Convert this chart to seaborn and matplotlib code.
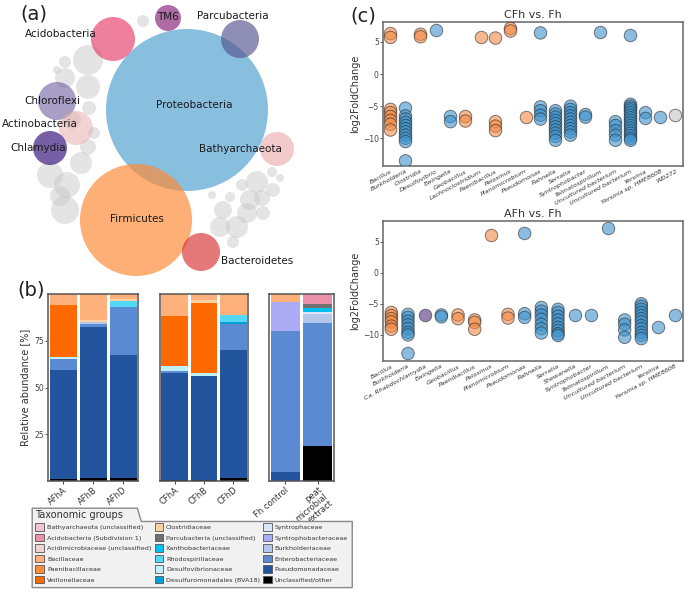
import numpy as np
import pandas as pd
import seaborn as sns
import matplotlib.pyplot as plt
from matplotlib.patches import Circle, Patch, Polygon

sns.set_style("ticks")
plt.rcParams['font.family'] = ['DejaVu Sans']

W, H = 690, 592

# ---------------- (a) phylum bubbles ----------------
phyla = ["Proteobacteria", "Firmicutes", "Bacteroidetes", "Bathyarchaeota", "Parcubacteria",
         "TM6", "Acidobacteria", "Chloroflexi", "Actinobacteria", "Chlamydia"]
phyla_size = [81, 56, 19, 17, 19, 13, 22, 19, 17, 17]
other_size = [6, 15, 6, 4, 10, 12, 7, 6, 8, 11, 13, 13, 14, 10, 9,
              11, 5, 4, 7, 10, 5, 9, 10, 7, 10, 11, 6, 4, 8, 6]

# ---------------- (b) relative abundance ----------------
families = ["Unclassified/other", "Pseudomonadaceae", "Enterobacteriaceae", "Burkholderiaceae",
            "Syntrophobacteraceae", "Syntrophaceae", "Desulfovibrionaceae",
            "Desulfuromonadales (BVA18)", "Rhodospirillaceae", "Xanthobacteriaceae",
            "Parcubacteria (unclassified)", "Veillonellaceae", "Paenibacillaceae", "Clostridiaceae",
            "Bacillaceae", "Acidimicrobiaceae (unclassified)", "Acidobacteria (Subdivision 1)",
            "Bathyarchaeota (unclassified)"]
family_colors = ["#000000", "#23559e", "#5a8ad2", "#b4c8ec", "#aaaaf5", "#dce6f8", "#bdf0f8",
                 "#00a0d0", "#55d8f5", "#00c0f0", "#707070", "#ff6a00", "#fd8d3c", "#fdd0a2",
                 "#fdb07a", "#f0d4d4", "#ea90a8", "#f2c4d0"]
samples = ["AFhA", "AFhB", "AFhD", "CFhA", "CFhB", "CFhD", "Fh control", "peat\nmicrobial\nextract"]
ab_AFhA = [1.0, 58.6, 5.9, 0, 0, 0, 0.8, 0, 0, 0, 0, 28.0, 0, 0, 5.7, 0, 0, 0]
ab_AFhB = [1.5, 81.0, 1.5, 0.8, 0, 0, 0, 0, 0, 0, 0, 0, 0, 1.2, 14.0, 0, 0, 0]
ab_AFhD = [1.5, 65.8, 25.6, 0, 0, 0, 0, 0, 3.5, 0, 0, 0, 0, 0.8, 2.8, 0, 0, 0]
ab_CFhA = [0.5, 57.0, 1.5, 0, 0, 0, 2.5, 0, 0, 0, 0, 26.5, 0, 0, 12.0, 0, 0, 0]
ab_CFhB = [0.5, 55.7, 0, 0, 0, 0, 1.8, 0, 0, 0, 0, 37.0, 0, 2.0, 3.0, 0, 0, 0]
ab_CFhD = [1.5, 68.8, 13.4, 0, 0, 0, 0, 1.3, 3.6, 0, 0, 0, 0, 0, 11.4, 0, 0, 0]
ab_Fh = [0, 4.7, 75.6, 0, 15.6, 0, 0, 0, 0, 0, 0, 0, 0, 0, 4.1, 0, 0, 0]
ab_peat = [18.9, 0, 65.4, 4.8, 0, 1.5, 0, 0, 0, 1.7, 2.2, 0, 0, 0, 0, 0, 5.5, 0]
sample_groups = [[0, 1, 2], [3, 4, 5], [6, 7]]

# ---------------- (c) differential abundance ----------------
phylum_palette = {"Firmicutes": "#f28a45", "Proteobacteria": "#3d92cc",
                  "Chlamydiae": "#50307a", "WD272": "#c4c4c4"}
cfh_genera = ["Bacillus", "Burkholderia", "Clostridia", "Desulfovibrio", "Ewingella", "Geobacillus",
              "Lachnoclostridium", "Paenibacillus", "Pelosinus", "Planomicrobium", "Pseudomonas",
              "Rahnella", "Serratia", "Syntrophobacter", "Telmatospirillum", "Uncultured bacterium",
              "Uncultured bacterium ", "Yersinia", "Yersinia sp. HME8608", "WD272"]
cfh_phyla = ["Firmicutes", "Proteobacteria", "Firmicutes", "Proteobacteria", "Proteobacteria",
             "Firmicutes", "Firmicutes", "Firmicutes", "Firmicutes", "Firmicutes", "Proteobacteria",
             "Proteobacteria", "Proteobacteria", "Proteobacteria", "Proteobacteria", "Proteobacteria",
             "Proteobacteria", "Proteobacteria", "Proteobacteria", "WD272"]
cfh_lfc = [
    [6.3, 5.7, -5.5, -6.0, -6.6, -7.2, -7.8, -8.7],
    [-5.3, -6.5, -7.0, -7.5, -8.0, -8.5, -9.0, -9.5, -10.0, -10.5, -13.5],
    [6.2, 5.8],
    [6.9],
    [-6.6, -7.4],
    [-6.6, -7.3],
    [5.8],
    [5.6, -7.4, -8.1, -8.8],
    [7.1, 6.7],
    [-6.7],
    [6.4, -5.1, -5.7, -6.4, -7.0],
    [-5.7, -6.2, -6.7, -7.2, -7.7, -8.2, -8.7, -9.2, -9.7, -10.3],
    [-5.0, -5.5, -6.0, -6.5, -7.0, -7.5, -8.0, -8.5, -9.0, -9.5],
    [-6.3, -6.7],
    [6.5],
    [-7.4, -8.0, -8.8, -9.5, -10.3],
    [6.0, -4.7, -5.0, -5.3, -5.6, -6.0, -6.4, -6.8, -7.2, -7.6, -8.0, -8.4, -8.8, -9.2, -9.6,
     -10.0, -10.3],
    [-6.0, -6.9],
    [-6.6],
    [-6.3],
]
afh_genera = ["Bacillus", "Burkholderia", "Ca. Rhabdochlamydia", "Ewingella", "Geobacillus",
              "Paenibacillus", "Pelosinus", "Planomicrobium", "Pseudomonas", "Rahnella", "Serratia",
              "Shewanella", "Syntrophobacter", "Telmatospirillum", "Uncultured bacterium",
              "Uncultured bacterium ", "Yersinia", "Yersinia sp. HME8608"]
afh_phyla = ["Firmicutes", "Proteobacteria", "Chlamydiae", "Proteobacteria", "Firmicutes",
             "Firmicutes", "Firmicutes", "Firmicutes", "Proteobacteria", "Proteobacteria",
             "Proteobacteria", "Proteobacteria", "Proteobacteria", "Proteobacteria", "Proteobacteria",
             "Proteobacteria", "Proteobacteria", "Proteobacteria"]
afh_lfc = [
    [-6.4, -6.9, -7.4, -7.9, -8.6, -9.1],
    [-6.7, -7.2, -7.8, -8.4, -9.0, -9.6, -10.0, -13.0],
    [-6.8],
    [-6.8, -7.1],
    [-6.8, -7.4],
    [-7.6, -8.0, -9.1],
    [6.1],
    [-6.7, -7.3],
    [6.3, -6.6, -7.2],
    [-5.6, -6.2, -6.8, -7.5, -8.3, -9.0, -9.7],
    [-5.9, -6.4, -7.0, -7.6, -8.2, -8.8, -9.3, -9.8, -10.1],
    [-6.8],
    [-6.8],
    [7.2],
    [-7.6, -8.3, -9.2, -10.4],
    [-5.0, -5.4, -5.9, -6.4, -6.9, -7.4, -7.9, -8.5, -9.0, -9.6, -10.1, -10.6],
    [-8.7],
    [-6.8],
]


def px_axes(fig, x0, y0, x1, y1):
    # axes placed by pixel box of the 690x592 canvas
    return fig.add_axes([x0 / W, 1 - y1 / H, (x1 - x0) / W, (y1 - y0) / H])


fig = plt.figure(figsize=(W / 100, H / 100), dpi=100)

# ---- (a) ----
ax_a = px_axes(fig, 0, 0, 300, 282)
ax_a.set_xlim(0, 300)
ax_a.set_ylim(282, 0)
ax_a.axis("off")

# bubble layout (pixel centres) and styling
other_xy = [(143, 21), (88, 60), (65, 62), (57, 70), (65, 78), (88, 87), (89, 108), (94, 133),
            (88, 147), (81, 163), (50, 175), (67, 185), (65, 210), (60, 196), (72, 120),
            (257, 182), (272, 172), (280, 178), (273, 190), (250, 200), (230, 197), (223, 210),
            (247, 213), (263, 213), (220, 227), (237, 227), (233, 242), (212, 195), (262, 198),
            (242, 185)]
phyla_xy = [(187, 110), (136, 220), (201, 252), (277, 149), (240, 39), (168, 18), (113, 39),
            (57, 101), (76, 128), (50, 148)]
phyla_colors = ["#6baed6", "#fd8d3c", "#d73030", "#e8a0a0", "#54548f", "#8c2d80", "#e84a74",
                "#7060a0", "#e8b0b0", "#4a2a8a"]
phyla_alpha = [0.8, 0.7, 0.65, 0.55, 0.65, 0.7, 0.7, 0.6, 0.55, 0.75]
label_xy = [(194, 105), (137, 219), (257, 261), (240, 149), (233, 16), (168, 17), (61, 34),
            (52, 101), (40, 124), (38, 148)]

for (x, y), r in zip(other_xy, other_size):
    ax_a.add_patch(Circle((x, y), r, color="#c4c4c4", alpha=0.45, lw=0))
draw_order = [3, 7, 8, 9, 6, 5, 0, 4, 1, 2]
for i in draw_order:
    ax_a.add_patch(Circle(phyla_xy[i], phyla_size[i], color=phyla_colors[i],
                          alpha=phyla_alpha[i], lw=0))
for name, (x, y) in zip(phyla, label_xy):
    ax_a.text(x, y, name, ha="center", va="center", fontsize=7.5, color="#1a1a1a")

# ---- (b) ----
abund = pd.DataFrame([ab_AFhA, ab_AFhB, ab_AFhD, ab_CFhA, ab_CFhB, ab_CFhD, ab_Fh, ab_peat],
                     index=samples, columns=families)
b_boxes = [(48, 294, 138, 481), (160, 294, 248, 481), (269, 294, 334, 481)]
for k, (box, idx) in enumerate(zip(b_boxes, sample_groups)):
    ax = px_axes(fig, *box)
    sub = abund.iloc[idx]
    bottom = np.zeros(len(idx))
    for fam, col in zip(families, family_colors):
        vals = sub[fam].values
        ax.bar(np.arange(len(idx)), vals, bottom=bottom, width=0.9, color=col, lw=0)
        bottom += vals
    ax.set_xlim(-0.5, len(idx) - 0.5)
    ax.set_ylim(0, 100)
    ax.set_xticks(np.arange(len(idx)))
    ax.set_xticklabels(sub.index, rotation=40, ha="right", rotation_mode="anchor",
                       fontsize=6, color="#333333", linespacing=0.95)
    if k == 0:
        ax.set_yticks([25, 50, 75])
        ax.tick_params(axis="y", labelsize=5.5, length=2, width=0.6, pad=1, colors="#444444")
        ax.set_ylabel("Relative abundance [%]", fontsize=7, color="#333333", labelpad=3)
    else:
        ax.set_yticks([])
    ax.tick_params(axis="x", length=2, width=0.6, pad=1)
    for s in ax.spines.values():
        s.set_color("#555555")
        s.set_linewidth(1.1)

handles = [Patch(facecolor=c, edgecolor="#555555", linewidth=0.6)
           for c in family_colors]
legend_order = ["Bathyarchaeota (unclassified)", "Acidobacteria (Subdivision 1)",
                "Acidimicrobiaceae (unclassified)", "Bacillaceae", "Paenibacillaceae",
                "Veillonellaceae", "Clostridiaceae", "Parcubacteria (unclassified)",
                "Xanthobacteriaceae", "Rhodospirillaceae", "Desulfovibrionaceae",
                "Desulfuromonadales (BVA18)", "Syntrophaceae", "Syntrophobacteraceae",
                "Burkholderiaceae", "Enterobacteriaceae", "Pseudomonadaceae", "Unclassified/other"]
leg_handles = [handles[families.index(f)] for f in legend_order]
leg = fig.legend(leg_handles, legend_order, ncol=3, loc="upper left",
                 bbox_to_anchor=(31 / W, 1 - 506 / H), fontsize=4.6, title="Taxonomic groups",
                 title_fontsize=7, alignment="left", frameon=False,
                 handlelength=1.4, handleheight=1.5, handletextpad=0.4,
                 columnspacing=0.5, labelspacing=0.42, borderpad=0.2)
leg.set_zorder(5)
for t in leg.get_texts():
    t.set_color("#333333")
leg.get_title().set_color("#333333")

# tabbed box behind the legend
fig.canvas.draw()
bb = leg.get_window_extent()
tb = leg.get_title().get_window_extent()
x0, x1 = bb.x0 - 2, bb.x1 + 3
y_bot, y_top = bb.y0 - 3, bb.y1 + 1
y_mid = tb.y0 - 1
tab_r = tb.x1 + 14
pts = [(x0, y_top), (tab_r, y_top), (tab_r + 4, y_mid), (x1, y_mid), (x1, y_bot), (x0, y_bot)]
fig.add_artist(Polygon([(x / W, y / H) for x, y in pts], closed=True,
                       transform=fig.transFigure, facecolor="#f1f1f1",
                       edgecolor="#8a8a8a", lw=1.0, zorder=1))


# ---- (c) ----
def strip_panel(ax, genera, phyla_of, values, title, ylim):
    df = pd.DataFrame({
        "genus": [g for g, v in zip(genera, values) for _ in v],
        "phylum": [p for p, v in zip(phyla_of, values) for _ in v],
        "log2FoldChange": [x for v in values for x in v],
    })
    sns.stripplot(data=df, x="genus", y="log2FoldChange", hue="phylum", order=genera,
                  palette=phylum_palette, jitter=False, size=9, alpha=0.6,
                  edgecolor="#2b2b2b", linewidth=0.7, legend=False, ax=ax)
    ax.set_xlim(-0.5, len(genera) - 0.5)
    ax.set_ylim(*ylim)
    ax.set_yticks([-10, -5, 0, 5])
    ax.set_xticks(np.arange(len(genera)))
    ax.set_xticklabels([g.strip() for g in genera], rotation=28, ha="right",
                       rotation_mode="anchor", fontsize=4.6, fontstyle="italic", color="#333333")
    ax.tick_params(axis="y", labelsize=5.5, length=2, width=0.6, pad=1, colors="#444444")
    ax.tick_params(axis="x", length=0, pad=2)
    ax.set_xlabel("")
    ax.set_ylabel("log2FoldChange", fontsize=7, color="#333333", labelpad=2)
    ax.set_title(title, fontsize=8, color="#333333", pad=3)
    for s in ax.spines.values():
        s.set_color("#666666")
        s.set_linewidth(1.1)


ax_c1 = px_axes(fig, 383, 22, 683, 166)
strip_panel(ax_c1, cfh_genera, cfh_phyla, cfh_lfc, "CFh vs. Fh", (-14.3, 8.1))
ax_c2 = px_axes(fig, 383, 221, 683, 361)
strip_panel(ax_c2, afh_genera, afh_phyla, afh_lfc, "AFh vs. Fh", (-14.2, 8.3))

fig.text(20 / W, 1 - 14 / H, "(a)", fontsize=14, va="center", color="#222222")
fig.text(17 / W, 1 - 290 / H, "(b)", fontsize=14, va="center", color="#222222")
fig.text(350 / W, 1 - 16 / H, "(c)", fontsize=14, va="center", color="#222222")

fig.savefig("out.png", dpi=100)
